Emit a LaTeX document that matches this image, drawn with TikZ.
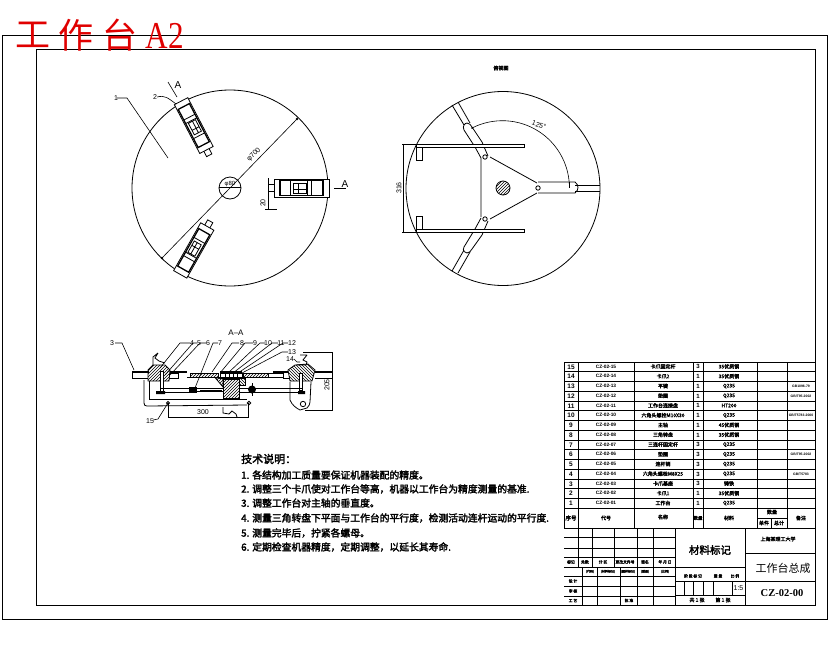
\documentclass[tikz,border=0pt]{standalone}
\usepackage{fontspec}
\usetikzlibrary{patterns}
\newfontfamily\cjk{Noto Sans CJK SC}[AutoFakeBold=2.5]
\setmainfont{Liberation Sans}
\tikzset{
  ln/.style={draw=black,line width=0.8pt},
  thn/.style={draw=black,line width=0.6pt},
  thk/.style={draw=black,line width=2pt},
  dim/.style={draw=black,line width=0.6pt},
  lbl/.style={font=\fontsize{7}{8}\selectfont,inner sep=0pt},
  tech/.style={font=\cjk\bfseries\fontsize{9.8}{10}\selectfont,anchor=west,inner sep=0pt},
  cell/.style={font=\cjk\bfseries\fontsize{5}{6}\selectfont,inner sep=0pt},
  tiny/.style={font=\cjk\bfseries\fontsize{3.8}{4}\selectfont,inner sep=0pt},
  hatchL/.style={pattern=north east lines},
  hatchR/.style={pattern=north west lines},
  bigred/.style={text=red!88!black,anchor=center,inner sep=0pt,font=\cjk\fontsize{35}{36}\selectfont},
  clampbody/.pic={
    \draw[ln,fill=white] (-27,-9) rectangle (28,9);
    \draw[thk,line width=1.3pt] (-21,-7.5) rectangle (22,7.5);
    \draw[ln] (-11,-7.5) -- (-11,7.5) (6,-7.5) -- (6,7.5) (10,-7.5) -- (10,7.5);
    \draw[ln] (-8,-4.5) rectangle (5,5) (-3,-4.5) -- (-3,5) (-8,1) -- (5,1);
    \draw[ln] (-27,-3.5) -- (-33,-3.5) -- (-33,3.5) -- (-27,3.5);
  },
}
\begin{document}
\begin{tikzpicture}[x=1pt,y=-1pt]
\useasboundingbox (0,0) rectangle (830,654);
\fill[white] (0,0) rectangle (830,654);
% frames
\draw[ln] (2.5,35.5) rectangle (827.5,619);
\draw[line width=1pt] (36.5,49) rectangle (815.5,605);
\node[bigred] (title1) at (33,35) {工};
\node[bigred] (title2) at (76,35) {作};
\node[bigred] (title3) at (120,35) {台};
\node[text=red!88!black,anchor=center,inner sep=0pt,xscale=.82,font=\fontspec{Liberation Serif}\fontsize{38}{40}\selectfont] (titleb) at (165,36) {A2};
% LEFT DISC
\draw[ln] (230,188) circle (98);
\draw[ln] (230,188) circle (11);
\draw[dim] (297,119) -- (162,258);
\fill (297,119) circle (1.3) (162,258) circle (1.3);
\node[lbl,rotate=45] (d700) at (254,155) {φ700};
\node[lbl,font=\fontsize{6}{7}\selectfont] (d80) at (230,184) {φ80};
\draw[dim] (219,187) -- (241,187);
\draw[dim] (117,98) -- (127,98) -- (168,158);
\node[lbl] (n1) at (116,98) {1};
\draw[dim] (157,97) .. controls (165,95) and (168,98) .. (176,104);
\node[lbl] (n2) at (155,97) {2};
% clamps
\pic at (301,188) {clampbody};
\pic[rotate=117.5,yscale=.84] at (194,126) {clampbody};
\pic[rotate=-119.5,yscale=.84] at (194,250) {clampbody};
\draw[dim] (268,178) -- (268,209) (265,209) -- (277,209);
\node[lbl,rotate=90] (d20) at (263,203) {20};
\draw[dim] (334,188) -- (346,188);
\node[lbl,font=\fontsize{10}{11}\selectfont] (aa) at (345,184) {A};
\draw[dim] (168,82) -- (177,97);
\node[lbl,font=\fontsize{10}{11}\selectfont] (ab) at (178,85) {A};
% RIGHT DISC
\node[cell] (rt) at (501,68) {俯视图};
\draw[ln] (503,188.5) circle (97);
\draw[ln] (481,158) -- (481,217) (490,157) -- (537,183) (537,193) -- (490,219);
\draw[ln] (485,157) circle (2.2) (485,219) circle (2.2) (538,188) circle (2.2);
\draw[ln] (503,188) circle (7);
\begin{scope}
\clip (503,188) circle (7);
\foreach \i in {-14,-11,...,14}{\draw[thn] ({503+\i-8},196) -- ({503+\i+8},180);}
\end{scope}
% arms
\draw[ln] (538,182) -- (575,182) .. controls (579,185) and (579,190) .. (575,193) -- (538,193);
\draw[ln] (575,185) -- (600,185) (575,191) -- (600,191);
\draw[ln] (452,105) -- (464,125) (458,102) -- (470,123);
\draw[ln] (481,158) -- (475,147) -- (464,130) .. controls (462,126) and (465,123) .. (467,123) .. controls (469,123) and (471,125) .. (472,127) -- (482,142) -- (488,156);
\draw[ln] (452,271) -- (464,250) (458,273) -- (470,252);
\draw[ln] (481,218) -- (475,229) -- (464,247) .. controls (462,251) and (465,253) .. (467,253) .. controls (469,253) and (471,251) .. (472,249) -- (482,235) -- (488,221);
% angle arc
\draw[dim] (472,128) arc[start angle=-117,end angle=-3,radius=67];
\draw[dim] (569,182) -- (569,188);
\fill (472,128) circle (1);
\node[lbl,rotate=-20,fill=white,inner sep=.5pt] (ang) at (539,125) {125°};
% bars
\draw[ln,fill=white] (416,144) rectangle (524,147) (416,229) rectangle (524,232);
\draw[ln] (416,147) rectangle (422,160) (416,216) rectangle (422,229);
\draw[dim] (402,144) -- (416,144) (402,232) -- (416,232) (403.5,144) -- (403.5,232);
\node[lbl,rotate=90] (d316) at (399,188) {316};
% SECTION A-A
\node[lbl,font=\fontsize{8}{9}\selectfont] (aat) at (236,333) {A--A};
% plate
\draw[thk] (132,371.5) -- (149,371.5) (170,371.5) -- (187,371.5) (273,371.5) -- (288,371.5) (315,371.5) -- (332,371.5);
\draw[ln] (132,373) -- (132,378) -- (148,378) (170,373) -- (178,373) -- (178,378) -- (169,378);
\draw[ln] (332,373) -- (332,378) -- (315,378) (283,373) -- (283,378) -- (290,378);
% hubs
\draw[ln,hatchL] (148,370) -- (153,365) -- (165,365) -- (170,370) -- (169,381) -- (148,381) -- cycle;
\draw[ln,hatchR] (288,370) -- (295,365) -- (308,364) -- (315,370) -- (312,381) -- (290,381) -- cycle;
% claws
\draw[ln] (158,353) -- (155,358) -- (159,361) -- (165,363) (153,365) -- (153,357) -- (158,353);
\draw[ln] (307,355) -- (303,360) -- (307,362) -- (306,365) -- (297,365) (300,355) -- (307,355);
% plate centre
\draw[ln,hatchL] (190,373) rectangle (218,377.5);
\draw[ln,hatchL] (243,373) rectangle (268,377.5);
\draw[ln] (187,377.5) -- (283,377.5) (268,373) -- (283,373);
\draw[thk] (220,372) -- (242,372);
\draw[ln] (220,373) rectangle (242,378);
\foreach \x in {225,229,233,237}{\draw[ln] (\x,373) -- (\x,380);}
% bolts
\draw[ln,fill=white] (160,371) rectangle (163,392) (299,373) rectangle (302,390);
\fill (156,391) rectangle (165,394) (298,391) rectangle (305,394);
% rods
\draw[ln] (160,388) -- (192,388) (157,392) -- (192,392);
\fill (189,387) rectangle (197,393);
\draw[ln] (197,388) -- (223,388) (197,391.5) -- (223,391.5) (200,390) -- (222,390);
\draw[ln] (240,388) -- (303,388) (240,392) -- (303,392);
\fill (252,389.5) circle (4);
\draw[ln] (252,383) -- (252,396);
% centre hub
\draw[ln,hatchL] (215,377.5) -- (223,387) -- (223,379) -- cycle;
\draw[ln,hatchL] (223,379) rectangle (239,398);
\draw[ln,hatchR] (239,378) rectangle (245,385);
\draw[ln] (225,398) rectangle (238,399);
% brackets
\draw[ln] (149,381) -- (149,399) -- (247,399);
\draw[ln] (144,380) -- (144,403) .. controls (144,405) and (145,406) .. (147,406) -- (247,405);
\draw[ln] (168,403) circle (1.5) (249,403) circle (1.8);
\draw[ln] (290,382) -- (290,400) .. controls (292,405) and (296,408) .. (300,410) -- (307,408) .. controls (309,406) and (310,404) .. (310,402) -- (311,382);
\draw[ln] (303,404) circle (2.7);
\draw[ln] (223,407) -- (223,413) -- (229,414) -- (232,411) -- (236,414) -- (237,417);
% dims
\draw[dim] (168,403) -- (168,418) (248,403) -- (248,418) (168,417) -- (248,417);
\node[lbl] (d300) at (203,412) {300};
\draw[dim] (303,352) -- (333,352) (305,410) -- (333,410) (332,352) -- (332,410);
\node[lbl,rotate=90] (d205) at (327,385) {205};
% leaders
\node[lbl] (nn3) at (112,343) {3};
\draw[dim] (115,343) -- (122,343) -- (134,370);
\node[lbl] (nn4) at (192,343) {4};
\draw[dim] (190,343) -- (180,343) -- (160,368);
\node[lbl] (nn5) at (199,343) {5};
\draw[dim] (197,343) -- (193,343) -- (165,375);
\node[lbl] (nn6) at (208,343) {6};
\draw[dim] (206,343) -- (200,343) -- (170,375);
\node[lbl] (nn7) at (220,343) {7};
\draw[dim] (218,343) -- (213,343) -- (195,388);
\node[lbl] (nn8) at (242,343) {8};
\draw[dim] (239,343) -- (232,343) -- (212,372);
\node[lbl] (nn9) at (255,343) {9};
\draw[dim] (253,343) -- (245,343) -- (220,373);
\node[lbl] (nn10) at (268,343) {10};
\draw[dim] (265,343) -- (260,343) -- (228,373);
\node[lbl] (nn11) at (281,343) {11};
\draw[dim] (278,343) -- (272,343) -- (233,373);
\node[lbl] (nn12) at (292,343) {12};
\draw[dim] (288,343) -- (283,343) -- (238,373);
\node[lbl] (nn13) at (292,352) {13};
\draw[dim] (288,352) -- (282,352) -- (242,373);
\node[lbl] (nn14) at (290,359) {14};
\draw[dim] (294,359) -- (297,362) -- (300,362);
\node[lbl] (nn15) at (150,421) {15};
\draw[dim] (153,420) -- (158,419) -- (168,403);
% TECH NOTES
\node[anchor=west,inner sep=0pt,font=\cjk\bfseries\fontsize{11}{12}\selectfont] (tt) at (241,459) {技术说明：};
\node[tech] (t1) at (241,475) {1. 各结构加工质量要保证机器装配的精度。};
\node[tech] (t2) at (241,489) {2. 调整三个卡爪使对工作台等高，机器以工作台为精度测量的基准.};
\node[tech] (t3) at (241,503) {3. 调整工作台对主轴的垂直度。};
\node[tech] (t4) at (241,518) {4. 测量三角转盘下平面与工作台的平行度，检测活动连杆运动的平行度.};
\node[tech] (t5) at (241,533) {5. 测量完毕后，拧紧各螺母。};
\node[tech] (t6) at (241,547) {6. 定期检查机器精度，定期调整，以延长其寿命.};
% BOM TABLE
\draw[line width=1pt] (564,362) rectangle (815.5,528);
\foreach \i in {0,...,15}{ \draw[ln] (564,{362+\i*9.75}) -- (815.5,{362+\i*9.75}); }
\foreach \x in {578,634,693,703,757,787}{ \draw[ln] (\x,362) -- (\x,528); }
\draw[ln] (757,518) -- (787,518) (771.5,518) -- (771.5,528);
\def\bomrow#1#2#3#4#5#6#7{%
  \node[cell,font=\bfseries\fontsize{6.5}{7}\selectfont] at (571,{366.9+#1*9.75}) {#2};
  \node[cell,font=\bfseries\fontsize{4.8}{5}\selectfont] at (606,{366.5+#1*9.75}) {#3};
  \node[cell] at (663,{366.5+#1*9.75}) {#4};
  \node[cell,font=\bfseries\fontsize{6}{7}\selectfont] at (698,{366.9+#1*9.75}) {#5};
  \node[cell] at (729,{366.5+#1*9.75}) {#6};
  \node[cell,font=\bfseries\fontsize{3.4}{4}\selectfont] at (801,{366.9+#1*9.75}) {#7};
}
\bomrow{0}{15}{CZ-02-15}{卡爪固定杆}{3}{35优质钢}{}
\bomrow{1}{14}{CZ-02-14}{卡爪2}{1}{35优质钢}{}
\bomrow{2}{13}{CZ-02-13}{平键}{1}{Q235}{GB1096-79}
\bomrow{3}{12}{CZ-02-12}{垫圈}{1}{Q235}{GB/T95-2002}
\bomrow{4}{11}{CZ-02-11}{工作台连接盘}{1}{HT200}{}
\bomrow{5}{10}{CZ-02-10}{六角头螺栓M10X30}{1}{Q235}{GB/T5783-2000}
\bomrow{6}{9}{CZ-02-09}{主轴}{1}{45优质钢}{}
\bomrow{7}{8}{CZ-02-08}{三角转盘}{1}{35优质钢}{}
\bomrow{8}{7}{CZ-02-07}{三连杆固定杆}{3}{Q235}{}
\bomrow{9}{6}{CZ-02-06}{垫圈}{3}{Q235}{GB/T95-2002}
\bomrow{10}{5}{CZ-02-05}{连杆销}{3}{Q235}{}
\bomrow{11}{4}{CZ-02-04}{六角头螺栓M8X25}{3}{Q235}{GB/T5783}
\bomrow{12}{3}{CZ-02-03}{卡爪基座}{3}{铸铁}{}
\bomrow{13}{2}{CZ-02-02}{卡爪1}{1}{35优质钢}{}
\bomrow{14}{1}{CZ-02-01}{工作台}{1}{Q235}{}
\node[cell,font=\cjk\bfseries\fontsize{5.5}{6}\selectfont] at (571,518) {序号};
\node[cell] at (606,518) {代号};
\node[cell] at (663,517) {名称};
\node[cell,font=\cjk\bfseries\fontsize{4.5}{5}\selectfont] at (698,518) {数量};
\node[cell] at (729,518) {材料};
\node[cell] at (772,512) {数量};
\node[cell] at (764,523) {单件};
\node[cell] at (779,523) {总计};
\node[cell] at (801,518) {备注};
% TITLE BLOCK
\foreach \y in {537,548,557,567,576,586,596}{ \draw[ln] (564,\y) -- (675,\y); }
\draw[ln] (578,528) -- (578,567) (592,528) -- (592,567) (614,528) -- (614,567) (637,528) -- (637,567) (653,528) -- (653,605);
\draw[ln] (582,567) -- (582,605) (597,567) -- (597,605) (620,567) -- (620,605) (637,567) -- (637,605);
\draw[ln] (675,528) -- (675,605) (745,528) -- (745,605);
\draw[ln] (745,553) -- (815.5,553) (745,581) -- (815.5,581);
\draw[ln] (675,567) -- (745,567) (675,581) -- (745,581) (675,595) -- (745,595);
\foreach \x in {684,693,703,713,732}{\draw[ln] (\x,581) -- (\x,595);}
\node[font=\cjk\bfseries\fontsize{10.5}{11}\selectfont,inner sep=0pt] (mat) at (710,550) {材料标记};
\node[font=\cjk\fontsize{11}{13}\selectfont,inner sep=0pt] (nm) at (783,568) {工作台总成};
\node[cell] (sch) at (778,539) {上海某理工大学};
\node[font=\fontspec{Liberation Serif}\bfseries\fontsize{10.5}{11}\selectfont,inner sep=0pt] (code) at (782,593) {CZ-02-00};
\node[lbl] (sc) at (738.5,588) {1:5};
\node[tiny] at (693,576) {阶 段 标 记};
\node[tiny] at (718,576) {重 量};
\node[tiny] at (735,576) {比 例};
\node[cell] at (697,600) {共 1 张};
\node[cell] at (723,600) {第 1 张};
\foreach \t/\x in {标记/571,处数/585,分 区/603,更改文件号/625,签名/645,年 月 日/665}{\node[tiny] at (\x,562) {\t};}
\foreach \t/\x in {(代码)/590,(材料标记)/608,(图样标记)/628,(重量)/645,(比例)/665}{\node[tiny,font=\cjk\bfseries\fontsize{3}{4}\selectfont] at (\x,571.5) {\t};}
\node[tiny] at (573,581) {设 计};
\node[tiny] at (573,591) {审 核};
\node[tiny] at (573,600.5) {工 艺};
\node[tiny] at (629,600.5) {批 准};
\end{tikzpicture}
\end{document}
